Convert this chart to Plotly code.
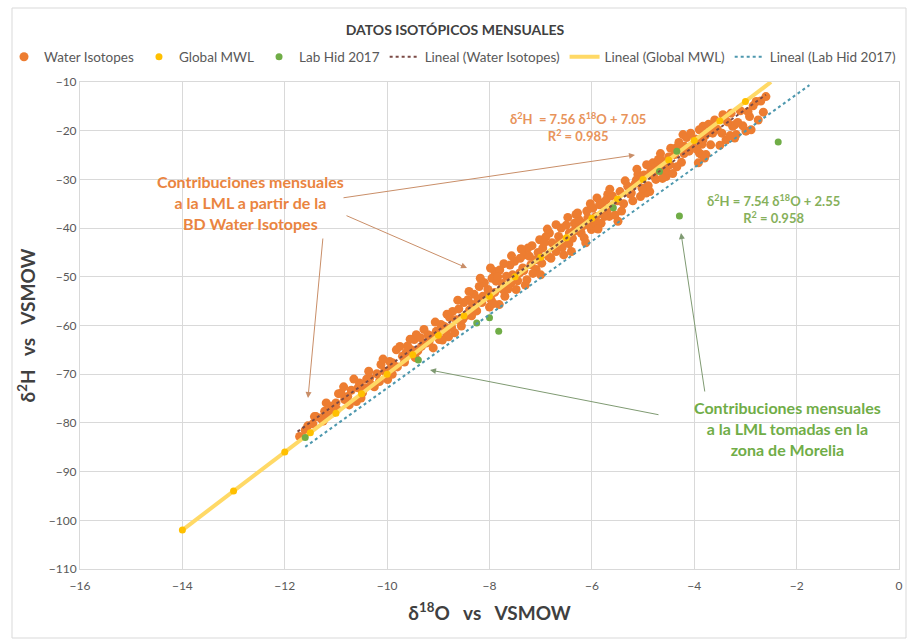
import plotly.graph_objects as go

# ---------------- data ----------------
wi_d18o = [-11.71, -11.42, -11.22, -11.16, -11.09, -11.00, -10.90, -10.83, -10.77, -10.74,
           -10.51, -10.54, -10.57, -10.44, -10.34, -10.31, -10.12, -10.05, -9.99, -9.92,
           -9.89, -9.82, -9.63, -9.53, -9.47, -9.43, -9.33, -9.24, -9.14, -9.04,
           -8.98, -8.91, -8.85, -8.72, -8.68, -8.65, -11.19, -11.39,
           -8.88, -8.42, -8.39, -8.33, -8.20, -8.13, -8.03, -7.97, -7.90, -7.87,
           -7.81, -7.74, -7.67, -7.58, -7.51, -7.48, -7.41, -7.35, -7.32, -7.25,
           -7.19, -7.09, -7.02, -6.96, -6.83, -6.73, -6.70, -6.60, -6.54, -6.40,
           -6.44, -6.34, -6.31, -6.21, -6.18, -6.08, -6.01, -5.98, -5.92, -5.79,
           -5.75, -5.69, -5.10, -5.07, -4.94, -4.81, -4.68, -4.61, -4.55, -4.48,
           -4.22, -4.03, -3.90, -3.83, -3.77, -3.64, -3.44, -3.25, -3.21,
           -4.19, -3.90, -3.83, -3.86, -3.80, -3.64, -3.41, -3.38, -3.21, -3.18,
           -2.92, -2.99, -2.89, -2.79, -2.60, -4.87, -5.00, -5.72, -5.66, -5.49,
           -5.23, -4.71, -4.65, -4.55, -4.35, -4.33, -4.81, -5.13,
           -11.55, -11.30, -11.05, -10.95, -10.70, -10.60, -10.40, -10.25, -10.20, -9.95,
           -9.80, -9.70, -9.60, -9.45, -9.35, -9.20, -9.10, -8.95, -8.80, -8.78,
           -8.60, -8.55, -8.50, -8.45, -8.30, -8.25, -8.15, -8.10, -8.00, -7.95,
           -7.90, -7.80, -7.75, -7.70, -7.60, -7.55, -7.45, -7.40, -7.30, -7.22,
           -7.15, -7.05, -6.98, -6.90, -6.85, -6.78, -6.65, -6.58, -6.50, -6.45,
           -6.35, -6.25, -6.15, -6.10, -6.05, -5.95, -5.85, -5.82, -5.70, -5.60,
           -5.55, -5.45, -5.38, -5.30, -5.20, -5.15, -5.05, -4.98, -4.90, -4.85,
           -4.75, -4.70, -4.62, -4.50, -4.42, -4.38, -4.30, -4.25, -4.15, -4.10,
           -3.98, -3.92, -3.85, -3.72, -3.68, -3.55, -3.50, -3.35, -3.30, -3.10,
           -3.05, -2.95, -2.70, -2.65,
           -11.60, -11.45, -11.25, -10.98, -10.85, -10.65, -10.48, -10.36, -10.15, -10.08,
           -9.90, -9.75, -9.66, -9.55, -9.40, -9.28, -9.18, -9.06, -8.92, -8.83,
           -8.74, -8.62, -8.52, -8.40, -8.35, -8.22, -8.18, -8.06, -7.98, -7.92,
           -7.84, -7.72, -7.64, -7.57, -7.50, -7.38, -7.33, -7.27, -7.17, -7.10,
           -7.00, -6.93, -6.87, -6.80, -6.70, -6.62, -6.55, -6.47, -6.38, -6.28,
           -6.20, -6.12, -6.03, -5.90, -5.88, -5.78, -5.65, -5.50, -5.42, -5.35,
           -5.25, -5.12, -5.02, -4.93, -4.80, -4.66, -4.58, -4.46, -4.34, -4.20,
           -4.07, -3.95, -3.78, -3.60, -3.46, -3.28, -3.15, -2.85, -2.75]
wi_d2h = [-82.8, -78.7, -77.6, -78.3, -76.6, -75.9, -73.9, -75.2, -74.6, -76.3,
          -74.9, -71.8, -72.8, -72.8, -70.8, -72.2, -68.0, -69.4, -71.1, -68.7,
          -67.7, -65.0, -65.6, -65.0, -62.9, -61.9, -64.3, -63.6, -62.2, -61.2,
          -62.9, -60.2, -61.5, -57.1, -61.5, -58.8, -75.9, -78.7,
          -60.2, -54.7, -56.8, -55.7, -52.0, -54.0, -52.6, -54.7, -48.9, -50.9,
          -55.7, -52.6, -49.9, -51.3, -46.8, -52.6, -49.2, -48.2, -45.5, -44.1,
          -47.5, -48.5, -42.4, -44.1, -41.0, -43.4, -44.8, -40.0, -42.7, -44.8,
          -41.0, -39.0, -37.2, -41.0, -39.0, -37.9, -40.3, -35.9, -37.6, -34.8,
          -37.6, -33.1, -29.0, -30.1, -32.8, -26.6, -26.0, -28.4, -29.4, -27.0,
          -20.8, -23.2, -24.6, -19.1, -24.9, -20.1, -16.7, -19.1, -21.5,
          -23.2, -19.8, -21.9, -24.9, -25.6, -20.5, -17.1, -21.9, -18.8, -20.8,
          -17.1, -20.1, -19.8, -14.0, -13.0, -32.5, -32.8, -34.2, -37.6, -38.6,
          -32.8, -27.0, -26.0, -28.0, -23.5, -23.9, -27.7, -30.1,
          -80.6, -79.0, -77.9, -74.0, -73.3, -75.6, -71.0, -72.6, -69.9, -67.4,
          -68.5, -66.3, -64.2, -66.6, -62.5, -61.9, -64.6, -59.8, -62.3, -58.3,
          -56.6, -60.1, -55.3, -57.9, -53.6, -57.0, -55.3, -51.2, -56.2, -50.3,
          -53.2, -48.6, -51.4, -54.0, -47.6, -49.6, -50.8, -46.2, -51.7, -45.8,
          -49.3, -45.0, -47.2, -41.8, -45.8, -43.0, -41.7, -44.0, -39.4, -43.2,
          -40.6, -38.3, -42.0, -36.5, -39.5, -38.9, -35.2, -39.0, -36.3, -33.4,
          -37.3, -32.5, -35.0, -31.4, -34.4, -30.8, -33.5, -29.1, -31.3, -28.3,
          -30.0, -25.9, -29.8, -25.4, -28.8, -24.9, -22.4, -26.5, -21.4, -24.2,
          -21.7, -26.6, -22.8, -18.7, -22.9, -19.7, -23.0, -18.2, -21.0, -15.9,
          -19.0, -16.1, -13.9, -16.2,
          -81.5, -80.2, -79.6, -77.2, -72.6, -71.0, -73.8, -69.4, -71.5, -66.9,
          -70.0, -64.3, -67.5, -62.8, -65.2, -60.8, -63.3, -59.3, -63.0, -57.7,
          -60.4, -54.8, -58.7, -53.0, -58.0, -54.6, -50.3, -54.0, -48.2, -55.5,
          -50.0, -47.3, -52.5, -45.7, -50.0, -44.3, -48.7, -50.6, -43.6, -46.5,
          -49.6, -43.0, -40.2, -46.2, -39.3, -42.3, -45.5, -37.8, -42.1, -36.9,
          -39.8, -43.0, -35.0, -33.8, -40.2, -37.1, -32.0, -34.4, -36.5, -30.3,
          -33.0, -27.9, -31.8, -27.0, -29.2, -24.7, -27.2, -23.6, -27.4, -24.7,
          -20.5, -23.8, -20.9, -17.8, -20.5, -16.4, -18.3, -14.9, -17.8]

gmwl_d18o = [-14.0, -13.0, -12.0, -11.5, -11.0, -10.5, -10.0, -9.5, -9.0, -8.5, -8.0,
             -7.5, -7.0, -6.5, -6.0, -5.5, -5.0, -4.5, -4.0, -3.5, -3.0]
gmwl_d2h = [-102.0, -94.0, -86.0, -82.0, -78.0, -74.0, -70.0, -66.0, -62.0, -58.0, -54.0,
            -50.0, -46.0, -42.0, -38.0, -34.0, -30.0, -26.0, -22.0, -18.0, -14.0]

lab_d18o = [-11.60, -9.39, -8.25, -8.00, -7.82, -5.58, -4.68, -4.34, -4.29, -2.36]
lab_d2h = [-83.0, -67.1, -59.5, -58.4, -61.2, -35.8, -28.4, -24.2, -37.5, -22.3]

# trend lines (coefficients shown on the chart) and their x extents
wi_fit = (7.56, 7.05)
wi_fit_x = [-11.75, -2.6]
gmwl_fit = (8.0, 10.0)
gmwl_fit_x = [-14.0, -2.5]
lab_fit = (7.54, 2.55)
lab_fit_x = [-11.6, -1.75]

x_ticks = [-16, -14, -12, -10, -8, -6, -4, -2, 0]
y_ticks = [-110, -100, -90, -80, -70, -60, -50, -40, -30, -20, -10]

# ---------------- styling ----------------
FONT = "Lato"
ORANGE = "#ED7D31"
GOLD = "#FFC000"
GREEN = "#70AD47"
SP = "&nbsp;"


def line_y(fit, xs):
    return [fit[0] * x + fit[1] for x in xs]


fig = go.Figure()

fig.add_trace(go.Scatter(x=wi_d18o, y=wi_d2h, mode="markers", name="Water Isotopes",
                         marker=dict(color=ORANGE, size=9), legendrank=1))
fig.add_trace(go.Scatter(x=gmwl_fit_x, y=line_y(gmwl_fit, gmwl_fit_x), mode="lines",
                         name="Lineal (Global MWL)",
                         line=dict(color="#FFD966", width=4), legendrank=5))
fig.add_trace(go.Scatter(x=gmwl_d18o, y=gmwl_d2h, mode="markers", name="Global MWL",
                         marker=dict(color=GOLD, size=7), legendrank=2))
fig.add_trace(go.Scatter(x=lab_d18o, y=lab_d2h, mode="markers", name="Lab Hid 2017",
                         marker=dict(color=GREEN, size=7), legendrank=3))
fig.add_trace(go.Scatter(x=wi_fit_x, y=line_y(wi_fit, wi_fit_x), mode="lines",
                         name="Lineal (Water Isotopes)",
                         line=dict(color="#7B4A45", width=2, dash="dot"), legendrank=4))
fig.add_trace(go.Scatter(x=lab_fit_x, y=line_y(lab_fit, lab_fit_x), mode="lines",
                         name="Lineal (Lab Hid 2017)",
                         line=dict(color="#4E98AE", width=2, dash="dot"), legendrank=6))

L, R, T, B = 80, 10, 82, 74
W, H = 909, 643
PW, PH = W - L - R, H - T - B


def px(xp):
    return (xp - L) / PW


def py(yp):
    return (H - B - yp) / PH


def dx(xp):
    return -16 + (xp - L) / PW * 16


def dy(yp):
    return -10 - (yp - T) / PH * 100


annotations = []
# text blocks
text_blocks = [
    (250, 202, "Contribuciones mensuales<br>a la LML a partir de la<br>BD Water Isotopes", 16, "#EA8440"),
    (787, 428, "Contribuciones mensuales<br>a la LML tomadas en la<br>zona de Morelia", 16, GREEN),
    (578, 127, "δ<sup>2</sup>H" + SP * 2 + "= 7.56 δ<sup>18</sup>O + 7.05<br>R<sup>2</sup> = 0.985", 13, "#E8935A"),
    (773, 209, "δ<sup>2</sup>H = 7.54 δ<sup>18</sup>O + 2.55<br>R<sup>2</sup> = 0.958", 13, "#86B05A"),
]
for xp_, yp_, txt, size, col in text_blocks:
    annotations.append(dict(x=px(xp_), y=py(yp_), xref="paper", yref="paper", showarrow=False,
                            xanchor="center", yanchor="middle", text=txt, align="center",
                            font=dict(family=FONT, size=size, color=col, weight="bold")))

# arrows (tail -> head), pixel positions converted to data coordinates
arrows = [((342, 198), (635, 155), "#C98E68"),
          ((345, 215), (467, 268), "#C98E68"),
          ((323, 237), (308, 398), "#C98E68"),
          ((705, 393), (681, 233), "#7F9A72"),
          ((660, 415), (430, 370), "#7F9A72")]
for (tx, ty), (hx, hy), col in arrows:
    annotations.append(dict(x=dx(hx), y=dy(hy), xref="x", yref="y",
                            ax=dx(tx), ay=dy(ty), axref="x", ayref="y",
                            showarrow=True, arrowhead=2, arrowsize=1.2, arrowwidth=1,
                            arrowcolor=col, text=""))

fig.update_layout(
    width=W, height=H,
    margin=dict(l=L, r=R, t=T, b=B, autoexpand=False),
    paper_bgcolor="white", plot_bgcolor="white",
    font=dict(family=FONT, color="#595959"),
    title=dict(text="<b>DATOS ISOTÓPICOS MENSUALES</b>", x=px(455), xref="paper",
               y=1 - 30 / H, yref="container", xanchor="center", yanchor="middle",
               font=dict(family=FONT, size=14, color="#404040")),
    legend=dict(orientation="h", x=px(4), y=py(57), xanchor="left", yanchor="middle",
                font=dict(family=FONT, size=13.5, color="#595959"),
                bgcolor="rgba(0,0,0,0)", itemwidth=30, tracegroupgap=0),
    xaxis=dict(range=[-16, 0], tickvals=x_ticks, showgrid=True, gridcolor="#D9D9D9",
               gridwidth=1, zeroline=False, showline=True, linecolor="#D9D9D9", mirror=True,
               tickfont=dict(family=FONT, size=12, color="#595959"), ticks="",
               ticklabelstandoff=6,
               title=dict(text="δ<sup>18</sup>O" + SP * 3 + "vs" + SP * 3 + "VSMOW", standoff=14,
                          font=dict(family=FONT, size=19, color="#404040", weight="bold"))),
    yaxis=dict(range=[-110, -10], tickvals=y_ticks, showgrid=True, gridcolor="#D9D9D9",
               gridwidth=1, zeroline=False, showline=True, linecolor="#D9D9D9", mirror=True,
               tickfont=dict(family=FONT, size=12, color="#595959"), ticks="",
               title=dict(text="δ<sup>2</sup>H" + SP * 3 + "vs" + SP * 3 + "VSMOW", standoff=8,
                          font=dict(family=FONT, size=19, color="#404040", weight="bold"))),
    annotations=annotations,
    shapes=[dict(type="rect", xref="paper", yref="paper", x0=px(12), y0=py(638),
                 x1=px(906), y1=py(8), line=dict(color="#D9D9D9", width=1), layer="below")],
)

fig.write_html("out.html")
